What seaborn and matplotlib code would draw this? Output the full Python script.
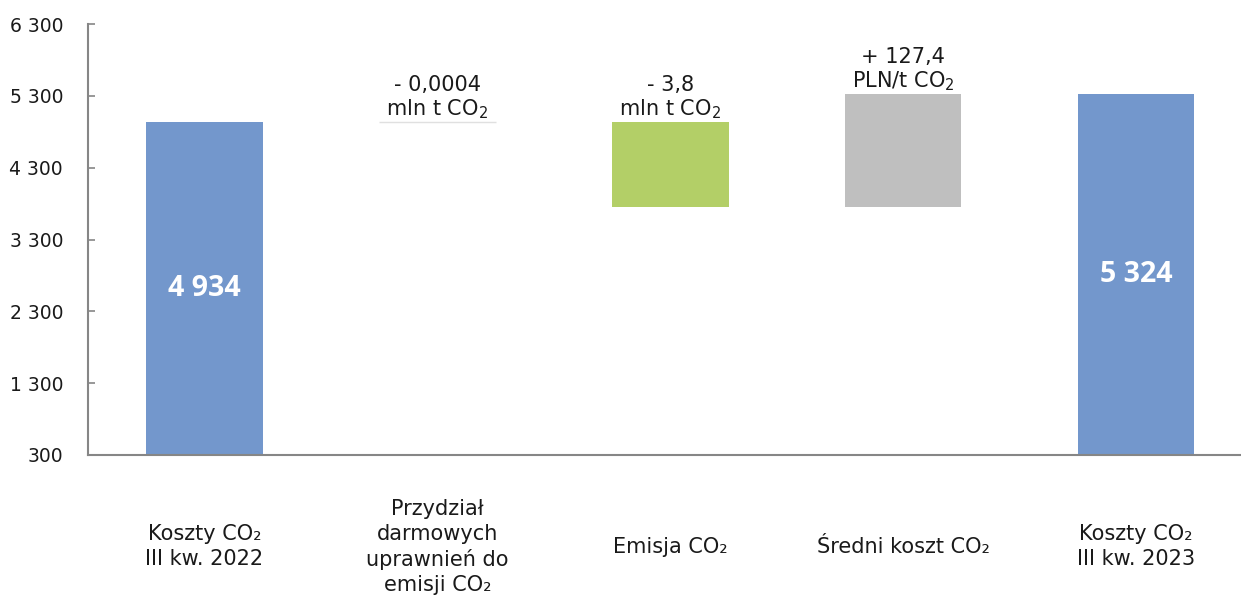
import matplotlib
matplotlib.use("Agg")
import matplotlib.pyplot as plt
import numpy as np
import pandas as pd
import seaborn as sns

# --- data (mln PLN) ---
categories = [
    "Koszty CO₂\nIII kw. 2022",
    "Przydział\ndarmowych\nuprawnień do\nemisji CO₂",
    "Emisja CO₂",
    "Średni koszt CO₂",
    "Koszty CO₂\nIII kw. 2023",
]
start_total = 4934
deltas = [-0.2, -1180, 1570]
end_total = 5324
delta_labels = [
    "- 0,0004\nmln t CO$_2$",
    "- 3,8\nmln t CO$_2$",
    "+ 127,4\nPLN/t CO$_2$",
]
total_labels = ["4 934", "5 324"]
yticks = [300, 1300, 2300, 3300, 4300, 5300, 6300]
ytick_labels = ["300", "1 300", "2 300", "3 300", "4 300", "5 300", "6 300"]

colors = ["#7397cc", "#ffffff", "#b3cf67", "#bfbfbf", "#7397cc"]

# waterfall geometry: floating bars start where the running total stands
running = np.cumsum([start_total] + deltas)
bottoms = [0] + list(running[:-1]) + [0]
heights = [start_total] + deltas + [end_total]

df = pd.DataFrame({"category": categories, "height": heights, "bottom": bottoms})

sns.set_style("white")
plt.rcParams["font.family"] = ["DejaVu Sans"]

fig = plt.figure(figsize=(12.41, 5.97), dpi=100)
ax = fig.add_axes([88 / 1241, 1 - 455 / 597, (1241 - 88) / 1241, 431 / 597])

sns.barplot(data=df, x="category", y="height", order=categories,
            bottom=df["bottom"].to_numpy(), width=0.5, errorbar=None,
            color=colors[0], linewidth=0, ax=ax)

for patch, c in zip(ax.patches, colors):
    patch.set_facecolor(c)
    patch.set_edgecolor("none")
# free-allocation change is tiny: show it as a hairline
ax.patches[1].set_edgecolor("#e0e0e0")
ax.patches[1].set_linewidth(1.0)

ax.set_ylim(300, 6300)
ax.set_xlim(-0.5, 4.45)
ax.set_yticks(yticks)
ax.set_yticklabels(ytick_labels, fontsize=13.5, color="#1a1a1a")
ax.set_xticks(range(len(categories)))
ax.set_xticklabels(categories, fontsize=15, color="#1a1a1a",
                   multialignment="center", linespacing=1.3)
for lbl in ax.get_xticklabels():
    lbl.set_verticalalignment("center")
ax.tick_params(axis="x", length=0, pad=66)
ax.tick_params(axis="y", direction="in", length=5, width=1.2,
               color="#868686", pad=18, left=True)
ax.set_xlabel("")
ax.set_ylabel("")

for side in ["top", "right"]:
    ax.spines[side].set_visible(False)
for side in ["left", "bottom"]:
    ax.spines[side].set_color("#868686")
    ax.spines[side].set_linewidth(1.5)

# change labels above the floating bars
for i, (b, h, txt) in enumerate(zip(bottoms[1:4], heights[1:4], delta_labels), start=1):
    top = max(b, b + h)
    ax.annotate(txt, xy=(i, top), xytext=(0, 1), textcoords="offset points",
                ha="center", va="bottom", fontsize=15, color="#1a1a1a",
                multialignment="center", linespacing=1.1)

# totals inside the blue bars
ylo = ax.get_ylim()[0]
for i, val, txt in [(0, start_total, total_labels[0]), (4, end_total, total_labels[1])]:
    ax.text(i, (ylo + val) / 2, txt, ha="center", va="center",
            fontsize=20.5, fontweight="bold", color="white", family="Open Sans")

fig.savefig("out.png", dpi=100)
